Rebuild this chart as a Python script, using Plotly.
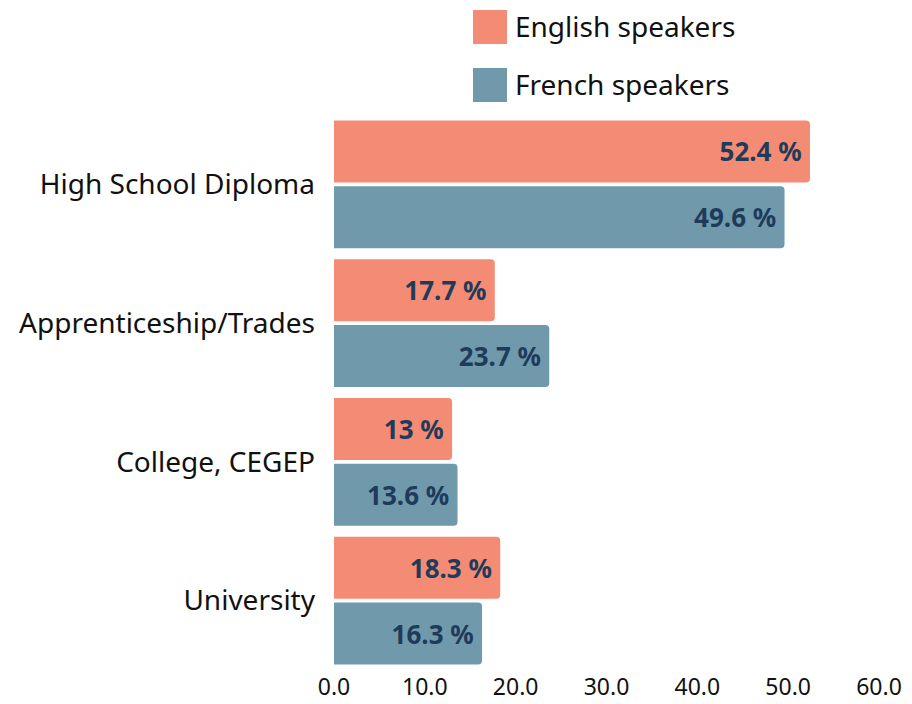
import plotly.graph_objects as go

categories = ["High School Diploma", "Apprenticeship/Trades", "College, CEGEP", "University"]
english = [52.4, 17.7, 13, 18.3]
french = [49.6, 23.7, 13.6, 16.3]
series_names = ["English speakers", "French speakers"]
colors = ["#F48B74", "#709AAC"]
tick_vals = [0, 10, 20, 30, 40, 50, 60]
tick_text = ["0.0", "10.0", "20.0", "30.0", "40.0", "50.0", "60.0"]

FONT = "Noto Sans"
label_color = "#1F3B5A"

fig = go.Figure()
for name, vals, col in zip(series_names, [english, french], colors):
    fig.add_trace(go.Bar(
        y=categories, x=vals, name=name, orientation="h",
        marker=dict(color=col, line=dict(width=0)),
        text=[f"{v:g} %\u2009" for v in vals],
        textposition="inside", insidetextanchor="end",
        textfont=dict(family=FONT, size=26, color=label_color, weight="bold"),
        showlegend=False, hoverinfo="skip",
    ))

# custom legend
for i, (name, col) in enumerate(zip(series_names, colors)):
    y0 = 10 + i * 58
    fig.add_shape(type="rect", xref="paper", yref="paper",
                  x0=(473 - 334) / 545, x1=(507 - 334) / 545,
                  y0=(670 - (y0 + 34)) / 555, y1=(670 - y0) / 555,
                  fillcolor=col, line=dict(width=0))
    fig.add_annotation(xref="paper", yref="paper",
                       x=(513 - 334) / 545, y=(670 - (y0 + 16)) / 555,
                       text=name, showarrow=False, xanchor="left", yanchor="middle",
                       font=dict(family=FONT, size=28, color="#111111"))

fig.update_layout(
    width=912, height=704,
    margin=dict(l=334, r=33, t=115, b=34, autoexpand=False),
    barmode="group", bargap=0.049, bargroupgap=0.06, barcornerradius=4,
    plot_bgcolor="white", paper_bgcolor="white",
    font=dict(family=FONT, color="#111111"),
    uniformtext=dict(mode=False),
)
fig.update_xaxes(range=[0, 60], tickvals=tick_vals, ticktext=tick_text,
                 showgrid=False, zeroline=False, showline=False,
                 tickfont=dict(family=FONT, size=23, color="#111111"),
                 automargin=False, ticks="", ticklabelstandoff=1)
fig.update_yaxes(autorange="reversed", showgrid=False, zeroline=False, showline=False,
                 tickfont=dict(family=FONT, size=28, color="#111111"),
                 automargin=False, ticks="", ticklabelstandoff=18)

fig.write_html("out.html", config={"displayModeBar": False},
               post_script="document.body.style.margin='0';document.body.style.overflow='hidden';")
